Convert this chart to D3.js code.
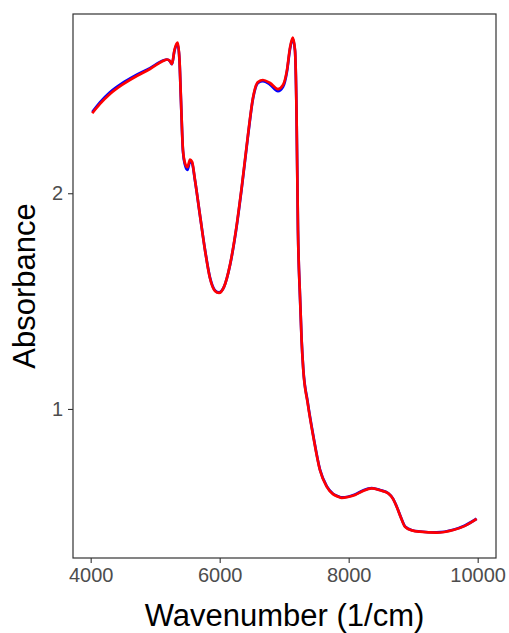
<!DOCTYPE html>
<html>
<head>
<meta charset="utf-8">
<script src="https://cdn.jsdelivr.net/npm/d3@7"></script>
<style>
  body { margin: 0; background: #fff; }
  svg { display: block; font-family: "Liberation Sans", Arial, sans-serif; }
</style>
</head>
<body>
<div id="chart"></div>
<script>
// wavenumber (1/cm)
const wavenumber = [4025, 4144, 4299, 4485, 4687, 4919, 5121, 5183, 5229, 5260,
  5299, 5349, 5377, 5400, 5431, 5462, 5501, 5540, 5571, 5617,
  5694, 5772, 5849, 5927, 5989, 6067, 6160, 6253, 6346, 6439,
  6516, 6594, 6671, 6780, 6904, 6982, 7044, 7090, 7132, 7168,
  7191, 7214, 7245, 7270, 7296, 7364, 7451, 7554, 7659, 7757,
  7839, 7891, 7989, 8098, 8222, 8357, 8486, 8614, 8687,
  8744, 8811, 8873, 8981, 9105, 9364, 9622, 9803, 9984];

// blue spectrum (drawn underneath)
const blueAbs = [2.376, 2.421, 2.468, 2.509, 2.545, 2.580, 2.615, 2.620, 2.612, 2.598,
  2.660, 2.690, 2.615, 2.430, 2.195, 2.132, 2.108, 2.147, 2.140, 2.060,
  1.899, 1.739, 1.610, 1.550, 1.540, 1.566, 1.666, 1.826, 2.034, 2.266,
  2.438, 2.512, 2.520, 2.504, 2.473, 2.493, 2.566, 2.668, 2.716, 2.660,
  2.384, 1.829, 1.524, 1.322, 1.186, 1.033, 0.877, 0.720, 0.642, 0.607,
  0.595, 0.590, 0.593, 0.603, 0.622, 0.633, 0.624, 0.609, 0.584,
  0.548, 0.497, 0.456, 0.438, 0.432, 0.428, 0.440, 0.460, 0.491];

// red spectrum (drawn on top)
const redAbs = [2.371, 2.414, 2.460, 2.502, 2.539, 2.576, 2.613, 2.620, 2.613, 2.599,
  2.664, 2.698, 2.618, 2.432, 2.200, 2.140, 2.121, 2.156, 2.147, 2.062,
  1.899, 1.737, 1.607, 1.547, 1.538, 1.566, 1.668, 1.830, 2.039, 2.271,
  2.442, 2.516, 2.525, 2.511, 2.483, 2.502, 2.572, 2.674, 2.722, 2.664,
  2.386, 1.829, 1.524, 1.320, 1.182, 1.028, 0.872, 0.717, 0.640, 0.605,
  0.593, 0.588, 0.592, 0.601, 0.620, 0.632, 0.623, 0.609, 0.583,
  0.547, 0.495, 0.454, 0.437, 0.431, 0.427, 0.439, 0.458, 0.490];

const xTicks = [4000, 6000, 8000, 10000];
const yTicks = [1, 2];

const width = 509, height = 633;
const margin = { top: 14, right: 13, bottom: 75, left: 73 };

const svg = d3.select('#chart').append('svg')
  .attr('width', width)
  .attr('height', height);

const x = d3.scaleLinear()
  .domain([3726, 10284])
  .range([margin.left, width - margin.right]);

const y = d3.scaleLinear()
  .domain([0.309, 2.831])
  .range([height - margin.bottom, margin.top]);

const line = d3.line()
  .x((d) => x(d[0]))
  .y((d) => y(d[1]))
  .curve(d3.curveMonotoneX);

const series = [
  { color: '#0000ff', values: blueAbs },
  { color: '#ff0000', values: redAbs },
];

svg.selectAll('.spectrum')
  .data(series)
  .enter()
  .append('path')
  .attr('class', 'spectrum')
  .attr('d', (s) => line(wavenumber.map((w, i) => [w, s.values[i]])))
  .attr('fill', 'none')
  .attr('stroke', (s) => s.color)
  .attr('stroke-width', 2.7)
  .attr('stroke-linejoin', 'round');

// axes
const xAxis = svg.append('g')
  .attr('transform', `translate(0,${height - margin.bottom})`)
  .call(d3.axisBottom(x).tickValues(xTicks).tickSize(5).tickPadding(5).tickFormat(d3.format('d')));

const yAxis = svg.append('g')
  .attr('transform', `translate(${margin.left},0)`)
  .call(d3.axisLeft(y).tickValues(yTicks).tickSize(5).tickPadding(5).tickFormat(d3.format('d')));

[xAxis, yAxis].forEach((g) => {
  g.select('.domain').remove();
  g.selectAll('.tick line').attr('stroke', '#333').attr('stroke-width', 1.1);
  g.selectAll('.tick text').attr('fill', '#4d4d4d').style('font-size', '20px');
});

// panel border
svg.append('rect')
  .attr('x', margin.left)
  .attr('y', margin.top)
  .attr('width', width - margin.left - margin.right)
  .attr('height', height - margin.top - margin.bottom)
  .attr('fill', 'none')
  .attr('stroke', '#333')
  .attr('stroke-width', 1.2);

// axis titles
svg.append('text')
  .attr('x', (margin.left + width - margin.right) / 2)
  .attr('y', 626)
  .attr('text-anchor', 'middle')
  .style('font-size', '31px')
  .text('Wavenumber (1/cm)');

svg.append('text')
  .attr('transform', `translate(35,${(margin.top + height - margin.bottom) / 2}) rotate(-90)`)
  .attr('text-anchor', 'middle')
  .style('font-size', '31px')
  .text('Absorbance');
</script>
</body>
</html>
